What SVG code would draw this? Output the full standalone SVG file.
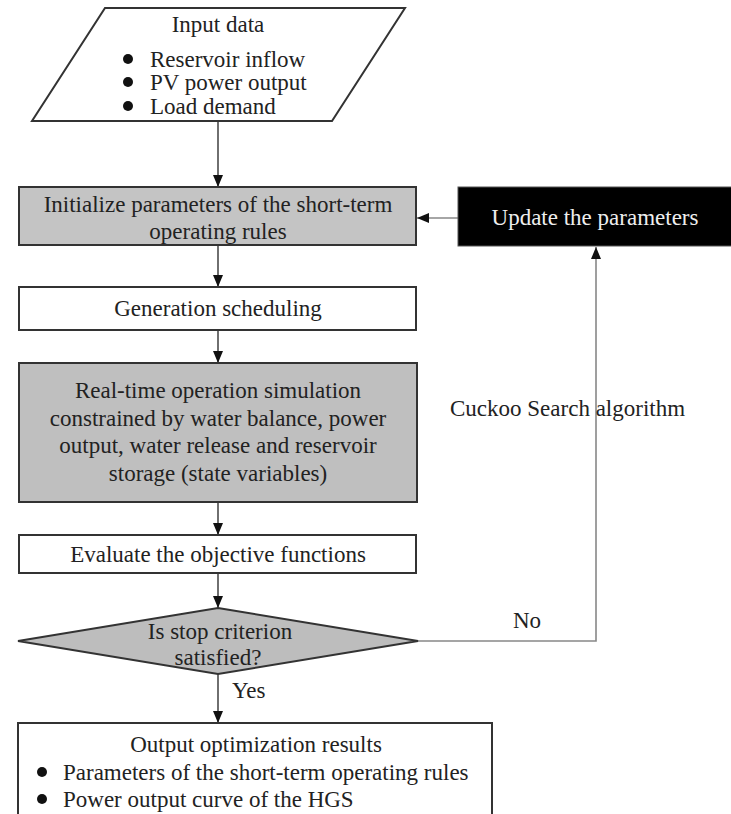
<svg xmlns="http://www.w3.org/2000/svg" width="731" height="814" viewBox="0 0 731 814">
<defs>
<style>
text{font-family:"Liberation Serif","Times New Roman",serif;font-size:23px;fill:#222}
.c{text-anchor:middle}
.box{stroke:#333;stroke-width:2}
.w{fill:#fff}
.g{fill:#c4c4c4}
.ln{fill:none;stroke:#222;stroke-width:1.3}
.gl{fill:none;stroke:#888;stroke-width:1.6}
</style>
<marker id="ah" markerUnits="userSpaceOnUse" markerWidth="12" markerHeight="12" viewBox="0 0 12 12" refX="12" refY="6" orient="auto">
<path d="M0,1 L12,6 L0,11 Z" fill="#111"/>
</marker>
</defs>
<rect width="731" height="814" fill="#fff"/>
<g id="connectors">
<line class="ln" x1="218" y1="121" x2="218" y2="187" marker-end="url(#ah)"/>
<line class="ln" x1="218" y1="246" x2="218" y2="287" marker-end="url(#ah)"/>
<line class="ln" x1="218" y1="330" x2="218" y2="363" marker-end="url(#ah)"/>
<line class="ln" x1="218" y1="502" x2="218" y2="535" marker-end="url(#ah)"/>
<line class="ln" x1="218" y1="573" x2="218" y2="608" marker-end="url(#ah)"/>
<line class="ln" x1="218" y1="674" x2="218" y2="723" marker-end="url(#ah)"/>
<polyline class="gl" points="418,641 596,641 596,247" marker-end="url(#ah)"/>
<line class="gl" x1="459" y1="218" x2="417" y2="218" marker-end="url(#ah)"/>
<text x="232" y="698">Yes</text>
<text x="513" y="628">No</text>
<text x="450" y="416">Cuckoo Search algorithm</text>
</g>
<g id="input">
<polygon class="box w" points="105,8 405,8 332,121 32,121"/>
<text class="c" x="218" y="32">Input data</text>
<circle cx="128" cy="59" r="5" fill="#111"/>
<text x="150" y="67">Reservoir inflow</text>
<circle cx="128" cy="82" r="5" fill="#111"/>
<text x="150" y="90">PV power output</text>
<circle cx="128" cy="106" r="5" fill="#111"/>
<text x="150" y="114">Load demand</text>
</g>
<g id="init">
<rect class="box g" x="19" y="187" width="397" height="58"/>
<text class="c" x="218" y="212">Initialize parameters of the short-term</text>
<text class="c" x="218" y="239">operating rules</text>
</g>
<g id="update">
<rect x="458" y="187" width="275" height="59" fill="#000" stroke="#555" stroke-width="1"/>
<text class="c" x="595" y="225" style="fill:#eee">Update the parameters</text>
</g>
<g id="generation">
<rect class="box w" x="19" y="287" width="397" height="43"/>
<text class="c" x="218" y="316">Generation scheduling</text>
</g>
<g id="simulation">
<rect class="box g" x="19" y="363" width="398" height="139" style="fill:#bfbfbf"/>
<text class="c" x="218" y="398">Real-time operation simulation</text>
<text class="c" x="218" y="426">constrained by water balance, power</text>
<text class="c" x="218" y="453">output, water release and reservoir</text>
<text class="c" x="218" y="481">storage (state variables)</text>
</g>
<g id="evaluate">
<rect class="box w" x="19" y="535" width="397" height="38"/>
<text class="c" x="218" y="562">Evaluate the objective functions</text>
</g>
<g id="decision">
<polygon class="box g" points="218,608 418,641 218,674 18,641" style="fill:#bdbdbd"/>
<text class="c" x="220" y="639">Is stop criterion</text>
<text class="c" x="218" y="665">satisfied?</text>
</g>
<g id="output">
<rect class="box w" x="18" y="723" width="474" height="100"/>
<text class="c" x="256" y="752">Output optimization results</text>
<circle cx="42" cy="772" r="5" fill="#111"/>
<text x="63" y="780">Parameters of the short-term operating rules</text>
<circle cx="42" cy="799" r="5" fill="#111"/>
<text x="63" y="807">Power output curve of the HGS</text>
</g>
</svg>
